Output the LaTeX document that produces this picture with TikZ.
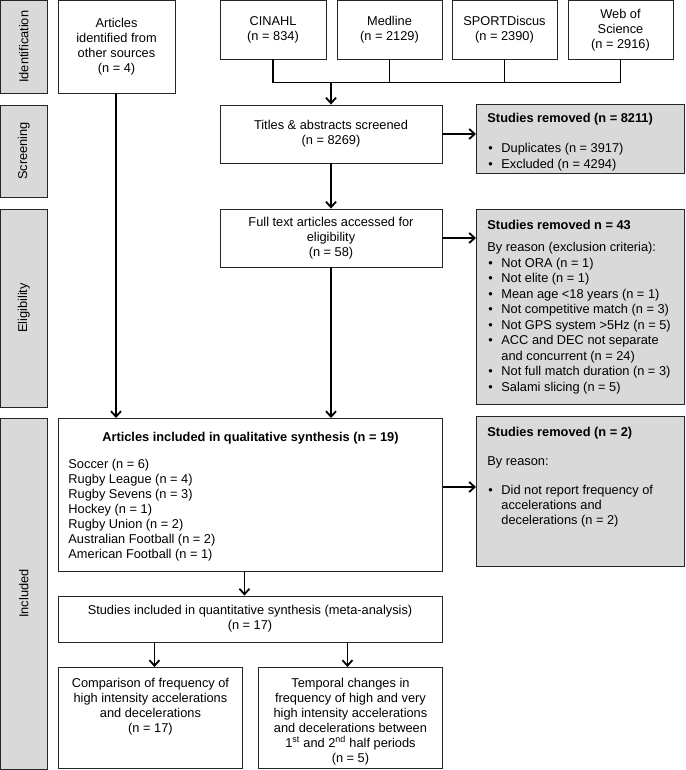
\documentclass[tikz,border=0pt]{standalone}
\usepackage{fontspec}
\setmainfont{Liberation Sans}
\usetikzlibrary{arrows.meta,calc}
\definecolor{barfill}{HTML}{D9D9D9}
\definecolor{edge}{HTML}{262626}
\newcommand\fs{\fontsize{12.8}{15}\selectfont}
\newcommand\bitem[1]{\par\hangindent=14pt\hangafter=1\makebox[14pt][l]{\hspace{1pt}•}#1}
\newcommand\topline[1]{\rule{0pt}{#1}}
\begin{document}
\begin{tikzpicture}[x=1pt,y=-1pt,
  every node/.style={font=\fs},
  bar/.style={draw=edge, line width=0.9pt, fill=barfill, inner sep=0pt},
  wbox/.style={draw=edge, line width=0.9pt, fill=white, inner sep=0pt, align=center},
  gbox/.style={draw=edge, line width=0.9pt, fill=barfill, inner sep=0pt, anchor=north west},
  tbox/.style={draw=edge, line width=0.9pt, fill=white, inner sep=0pt, anchor=north west},
  conn/.style={line width=1.8pt, draw=black},
  arr/.style={conn, -{Straight Barb[length=5.5pt,width=10pt]}}]

\useasboundingbox (0,0) rectangle (685,770);

% phase bars
\node[bar, minimum width=46.5pt, minimum height=92.5pt] (idbar) at (23.75,46.75) {\rotatebox{90}{Identification}};
\node[bar, minimum width=46.5pt, minimum height=92pt] (scrbar) at (23.75,151) {\rotatebox{90}{Screening}};
\node[bar, minimum width=46.5pt, minimum height=198pt] (eligbar) at (23.75,308) {\rotatebox{90}{Eligibility}};
\node[bar, minimum width=46.5pt, minimum height=351pt] (inclbar) at (23.75,593.5) {\rotatebox{90}{Included}};

% identification
\node[wbox, minimum width=117pt, minimum height=92.5pt] (other) at (116.5,46.75) {Articles\\identified from\\other sources\\(n = 4)};
\node[wbox, minimum width=106pt, minimum height=58.5pt] (cinahl) at (273,29.75) {CINAHL\\(n = 834)};
\node[wbox, minimum width=105pt, minimum height=58.5pt] (medline) at (389.5,29.75) {Medline\\(n = 2129)};
\node[wbox, minimum width=105pt, minimum height=58.5pt] (sport) at (504.5,29.75) {SPORTDiscus\\(n = 2390)};
\node[wbox, minimum width=105pt, minimum height=58.5pt] (wos) at (620.5,29.75) {Web of\\Science\\(n = 2916)};

% screening
\node[wbox, minimum width=222pt, minimum height=58pt] (titles) at (331,134) {Titles \& abstracts screened\\(n = 8269)};
\node[gbox, inner xsep=11pt] (rem1) at (476,104) {\begin{minipage}[t][69pt][t]{186pt}\raggedright\fontsize{12.8}{16}\selectfont\setlength\parskip{0pt}%
\topline{17.6pt}\textbf{Studies removed (n = 8211)}\par\vspace{14pt}
\bitem{Duplicates (n = 3917)}
\bitem{Excluded (n = 4294)}\end{minipage}};

% eligibility
\node[wbox, minimum width=222pt, minimum height=58pt] (full) at (331,238) {Full text articles accessed for\\eligibility\\(n = 58)};
\node[gbox, inner xsep=11pt] (rem2) at (476,209) {\begin{minipage}[t][195pt][t]{186pt}\raggedright\fontsize{12.8}{15.5}\selectfont\setlength\parskip{0pt}%
\topline{19.6pt}\textbf{Studies removed n = 43}\par\vspace{6.5pt}
By reason (exclusion criteria):\par\vspace{0.5pt}
\bitem{Not ORA (n = 1)}
\bitem{Not elite (n = 1)}
\bitem{Mean age <18 years (n = 1)}
\bitem{Not competitive match (n = 3)}
\bitem{Not GPS system >5Hz (n = 5)}
\bitem{ACC and DEC not separate\newline and concurrent (n = 24)}
\bitem{Not full match duration (n = 3)}
\bitem{Salami slicing (n = 5)}\end{minipage}};

% included
\node[tbox, inner xsep=10pt] (incl) at (58,418) {\begin{minipage}[t][153pt][t]{364pt}\raggedright\fs\setlength\parskip{0pt}%
\topline{22.6pt}\makebox[\linewidth][c]{\textbf{Articles included in qualitative synthesis (n = 19)}}\par\vspace{12pt}
Soccer (n = 6)\\
Rugby League (n = 4)\\
Rugby Sevens (n = 3)\\
Hockey (n = 1)\\
Rugby Union (n = 2)\\
Australian Football (n = 2)\\
American Football (n = 1)\end{minipage}};
\node[gbox, inner xsep=11pt] (rem3) at (476,416) {\begin{minipage}[t][150pt][t]{186pt}\raggedright\fs\setlength\parskip{0pt}%
\topline{19.6pt}\textbf{Studies removed (n = 2)}\par\vspace{14pt}
By reason:\par\vspace{14pt}
\bitem{Did not report frequency of\newline accelerations and\newline decelerations (n = 2)}\end{minipage}};
\node[wbox, minimum width=384pt, minimum height=46pt] (quant) at (250,619) {Studies included in quantitative synthesis (meta-analysis)\\(n = 17)};
\node[tbox] (comp) at (58,667) {\begin{minipage}[t][101pt][t]{184pt}\centering\fs
\topline{19.6pt}Comparison of frequency of\\high intensity accelerations\\and decelerations\\(n = 17)\end{minipage}};
\node[tbox] (temp) at (258,667) {\begin{minipage}[t][101pt][t]{184pt}\centering\fs
\topline{19.6pt}Temporal changes in\\frequency of high and very\\high intensity accelerations\\and decelerations between\\1\textsuperscript{st} and 2\textsuperscript{nd} half periods\\(n = 5)\end{minipage}};

% connectors
\coordinate (busy) at ($(cinahl.south)+(0,23)$);
\coordinate (bus) at (titles.north |- busy);
\draw[conn] (cinahl.south) |- (wos.south |- busy) -- (wos.south);
\draw[conn] (medline.south) -- (medline.south |- busy);
\draw[conn] (sport.south) -- (sport.south |- busy);
\draw[arr] (bus) -- (titles.north);
\draw[arr] (titles.east) -- (titles.east -| rem1.west);
\draw[arr] (titles.south) -- (full.north);
\draw[arr] (full.east) -- (full.east -| rem2.west);
\draw[arr] (full.south) -- (full.south |- incl.north);
\coordinate (a1) at ($(other.south)+(-0.5,0)$);
\draw[arr] (a1) -- (a1 |- incl.north);
\coordinate (a3) at ($(incl.north east)+(0,69)$);
\draw[arr] (a3) -- (a3 -| rem3.west);
\coordinate (a4) at ($(incl.south)+(-6,0)$);
\draw[arr] (a4) -- (a4 |- quant.north);
\coordinate (a5) at ($(comp.north)+(4,0)$);
\draw[arr] (a5 |- quant.south) -- (a5);
\coordinate (a6) at ($(temp.north)+(-3,0)$);
\draw[arr] (a6 |- quant.south) -- (a6);
\end{tikzpicture}
\end{document}
